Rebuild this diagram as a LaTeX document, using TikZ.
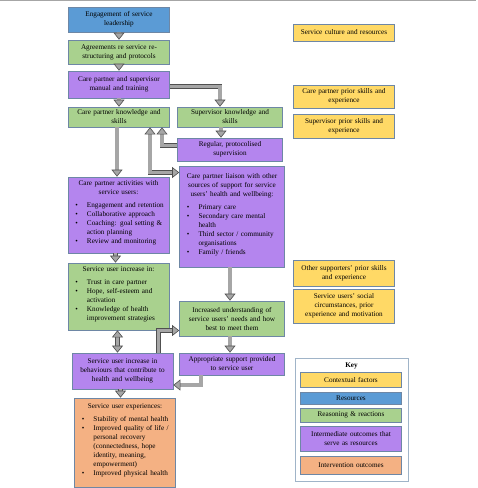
\documentclass[tikz,border=0pt]{standalone}
\usepackage{fontspec}
\setmainfont{Liberation Serif}
\usepackage{enumitem}
\usepackage{tikz}
\usetikzlibrary{arrows.meta, positioning, calc}
\definecolor{ctxyellow}{RGB}{255,217,102}
\definecolor{resblue}{RGB}{91,155,213}
\definecolor{reasgreen}{RGB}{169,209,142}
\definecolor{intpurple}{RGB}{180,133,238}
\definecolor{outorange}{RGB}{244,177,131}
\definecolor{boxedge}{RGB}{110,135,165}
\definecolor{keyedge}{RGB}{160,180,200}
\definecolor{arrowfill}{RGB}{166,166,166}
\definecolor{arrowedge}{RGB}{80,80,80}
\setlist[itemize]{label=\textbullet, leftmargin=17pt, labelsep=9pt, itemsep=0pt,
  parsep=0pt, topsep=4pt, partopsep=0pt, before=\raggedright}
\tikzset{
  base/.style={rectangle, draw=boxedge, line width=0.7pt, align=center,
    font=\fontsize{7.2}{9}\selectfont, inner xsep=2pt, inner ysep=1pt,
    text width=97pt, minimum height=15pt},
  wide/.style={text width=101pt},
  ctxblock/.style={base, fill=ctxyellow},
  resblock/.style={base, fill=resblue},
  reasblock/.style={base, fill=reasgreen},
  intblock/.style={base, fill=intpurple},
  outblock/.style={base, fill=outorange},
  keyframe/.style={rectangle, draw=keyedge, line width=0.8pt},
  gtip/.tip={Triangle[length=7pt, width=11pt, fill=arrowfill]},
  garrow/.style={draw=arrowedge, line width=0.6pt, double=arrowfill,
    double distance=3.4pt, -gtip},
  gdarrow/.style={garrow, gtip-gtip}
}
\begin{document}
\begin{tikzpicture}[x=1pt, y=-1pt]
  \useasboundingbox (0,0) rectangle (478,488);
  \draw[gray!70, line width=1pt] (0,0.5) -- (476,0.5);

  % Main chain, left column
  \node[resblock, minimum height=25pt] (eng) at (119,19.5) {Engagement of service\\leadership};
  \node[reasblock, minimum height=24pt] (agree) at (119,52) {Agreements re service re-\\structuring and protocols};
  \node[intblock, minimum height=27pt] (manual) at (119,84.5) {Care partner and supervisor\\manual and training};
  \node[reasblock, minimum height=20pt] (cpk) at (119,117) {Care partner knowledge and\\skills};
  \node[intblock, minimum height=76pt] (cpact) at (118.5,215) {Care partner activities with\\service users:\par
    \begin{itemize}
      \item Engagement and retention
      \item Collaborative approach
      \item Coaching: goal setting \&\\action planning
      \item Review and monitoring
    \end{itemize}\vspace{-4pt}};
  \node[reasblock, minimum height=67pt] (suinc) at (118.5,296.5) {Service user increase in:\par
    \begin{itemize}
      \item Trust in care partner
      \item Hope, self-esteem and\\activation
      \item Knowledge of health\\improvement strategies
    \end{itemize}\vspace{-4pt}};
  \node[intblock, minimum height=36pt] (behav) at (122.5,371) {Service user increase in\\behaviours that contribute to\\health and wellbeing};
  \node[outblock, minimum height=89pt] (exper) at (125,442.5) {Service user experiences:\par
    \begin{itemize}
      \item Stability of mental health
      \item Improved quality of life /\\personal recovery\\(connectedness, hope\\identity, meaning,\\empowerment)
      \item Improved physical health
    \end{itemize}\vspace{-4pt}};

  % Middle column
  \node[reasblock, wide, minimum height=20pt] (svk) at (230,117) {Supervisor knowledge and\\skills};
  \node[intblock, wide, minimum height=23pt] (regsup) at (230,149.5) {Regular, protocolised\\supervision};
  \node[intblock, wide, minimum height=101pt] (liaison) at (232,216.5) {Care partner liaison with other\\sources of support for service\\users' health and wellbeing:\par
    \begin{itemize}
      \item Primary care
      \item Secondary care mental\\health
      \item Third sector / community\\organisations
      \item Family / friends
    \end{itemize}\vspace{-4pt}};
  \node[reasblock, wide, minimum height=35pt] (underst) at (232,318.5) {Increased understanding of\\service users' needs and how\\best to meet them};
  \node[intblock, wide, minimum height=22pt] (approp) at (232,364) {Appropriate support provided\\to service user};

  % Contextual factors, right column
  \node[ctxblock, minimum height=17pt] (culture) at (344,32.5) {Service culture and resources};
  \node[ctxblock, minimum height=23pt] (cpprior) at (344,96.5) {Care partner prior skills and\\experience};
  \node[ctxblock, minimum height=24pt] (svprior) at (344,126) {Supervisor prior skills and\\experience};
  \node[ctxblock, minimum height=26pt] (other) at (344,273) {Other supporters' prior skills\\and experience};
  \node[ctxblock, minimum height=34pt] (social) at (344,306) {Service users' social\\circumstances, prior\\experience and motivation};

  % Key
  \node[keyframe, minimum width=113pt, minimum height=123pt] (key) at (351.5,419.5) {};
  \node[font=\bfseries\fontsize{7.2}{9}\selectfont] (keytitle) at (351.5,366) {Key};
  \node[ctxblock, minimum height=15pt] (kctx) at (351,379.5) {Contextual factors};
  \node[resblock, minimum height=12pt] (kres) at (351,398) {Resources};
  \node[reasblock, minimum height=14pt] (kreas) at (351,415) {Reasoning \& reactions};
  \node[intblock, minimum height=25pt] (kint) at (351,438.5) {Intermediate outcomes that\\serve as resources};
  \node[outblock, minimum height=18pt] (kout) at (351,465) {Intervention outcomes};

  % Arrows
  \draw[garrow] (eng) -- (agree);
  \draw[garrow] (agree) -- (manual);
  \draw[garrow] (manual) -- (cpk);
  \draw[garrow] ([yshift=-2pt]manual.east) -| ([xshift=-10pt]svk.north);
  \draw[garrow] ([xshift=-2pt]cpk.south) -- ([xshift=-2pt]cpk.south |- cpact.north);
  \draw[garrow] ([xshift=-9pt]svk.south) -- ([xshift=-9pt]svk.south |- regsup.north);
  \draw[garrow] ([yshift=4pt]regsup.west) -| ([xshift=43pt]cpk.south);
  \draw[gdarrow] ([xshift=31pt]cpk.south) |- ([yshift=44pt]liaison.west);
  \draw[garrow] ([xshift=-3pt]cpact.south) -- ([xshift=-3pt]cpact.south |- suinc.north);
  \draw[garrow] ([xshift=-2pt]liaison.south) -- ([xshift=-2pt]liaison.south |- underst.north);
  \draw[gdarrow] ([xshift=-1pt]suinc.south) -- ([xshift=-1pt]suinc.south |- behav.north);
  \draw[garrow] ([xshift=36pt]behav.north) |- ([yshift=-12pt]underst.west);
  \draw[garrow] ([xshift=-2pt]underst.south) -- ([xshift=-2pt]underst.south |- approp.north);
  \draw[garrow] ([xshift=-31pt]approp.south) |- ([yshift=-14pt]behav.east);
  \draw[garrow] ([xshift=-2pt]behav.south) -- ([xshift=-2pt]behav.south |- exper.north);
\end{tikzpicture}
\end{document}
